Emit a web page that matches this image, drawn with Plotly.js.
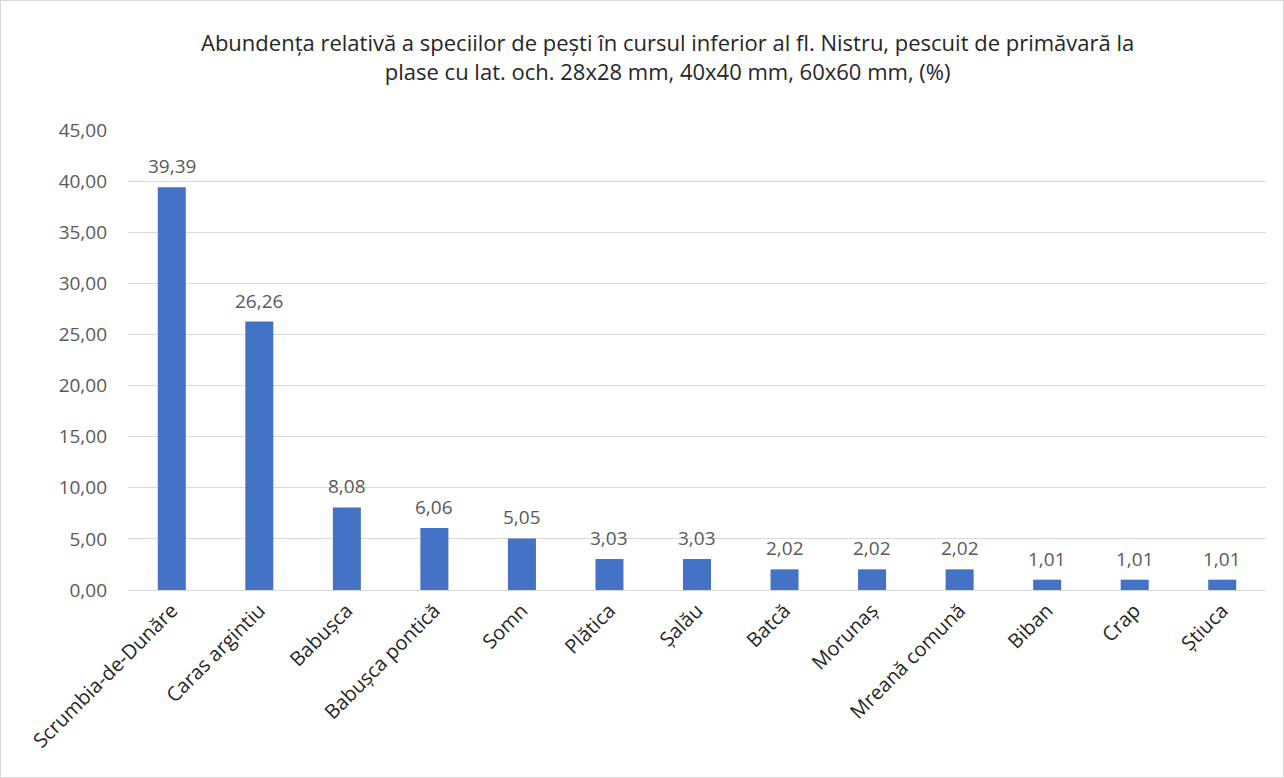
<!DOCTYPE html>
<html>
<head>
<meta charset="utf-8">
<script src="https://cdn.plot.ly/plotly-3.0.1.min.js"></script>
<style>
html,body{margin:0;padding:0;background:#fff;}
#chart{width:1284px;height:778px;box-sizing:border-box;border:1px solid #d9d9d9;}
</style>
</head>
<body>
<div id="chart"></div>
<script>
const categories = ["Scrumbia-de-Dunăre","Caras argintiu","Babușca","Babușca pontică","Somn","Plătica","Șalău","Batcă","Morunaș","Mreană comună","Biban","Crap","Știuca"];
const values = [39.39, 26.26, 8.08, 6.06, 5.05, 3.03, 3.03, 2.02, 2.02, 2.02, 1.01, 1.01, 1.01];
const titleText = "Abundența relativă a speciilor de pești în cursul inferior al fl. Nistru, pescuit de primăvară la<br>plase cu lat. och. 28x28 mm, 40x40 mm, 60x60 mm, (%)";

const font = "Open Sans, Liberation Sans, sans-serif";
const fmt = v => v.toFixed(2).replace(".", ",");
const trace = {
  type: "bar",
  x: categories,
  y: values,
  marker: {color: "#4472C4"},
  width: 0.32,
  hoverinfo: "x+y"
};
const labels = categories.map((c, i) => ({
  x: c, y: values[i], xref: "x", yref: "y",
  text: fmt(values[i]), showarrow: false,
  yanchor: "bottom", yshift: 6,
  font: {family: font, size: 19, color: "#595959"}
}));
const layout = {
  width: 1282, height: 776,
  separators: ",.",
  font: {family: font, color: "#595959"},
  title: {text: titleText, font: {family: font, size: 22, color: "#262626"}, x: 0.52, xanchor: "center", y: 0.935, yanchor: "top"},
  margin: {l: 127, r: 17, t: 129, b: 187},
  bargap: 0.68,
  showlegend: false,
  plot_bgcolor: "#fff",
  paper_bgcolor: "#fff",
  annotations: labels,
  xaxis: {
    tickangle: -45,
    tickfont: {family: font, size: 20, color: "#262626"},
    showline: true, linecolor: "#d9d9d9", linewidth: 1,
    ticks: "", showgrid: false
  },
  yaxis: {
    range: [0, 45],
    dtick: 5,
    tickformat: ".2f",
    tickfont: {family: font, size: 19, color: "#595959"},
    showgrid: true, gridcolor: "#d9d9d9", gridwidth: 1,
    zeroline: false, showline: false, ticks: "",
    ticklabelstandoff: 20
  }
};
Plotly.newPlot("chart", [trace], layout, {displayModeBar: false, staticPlot: true});
</script>
</body>
</html>
